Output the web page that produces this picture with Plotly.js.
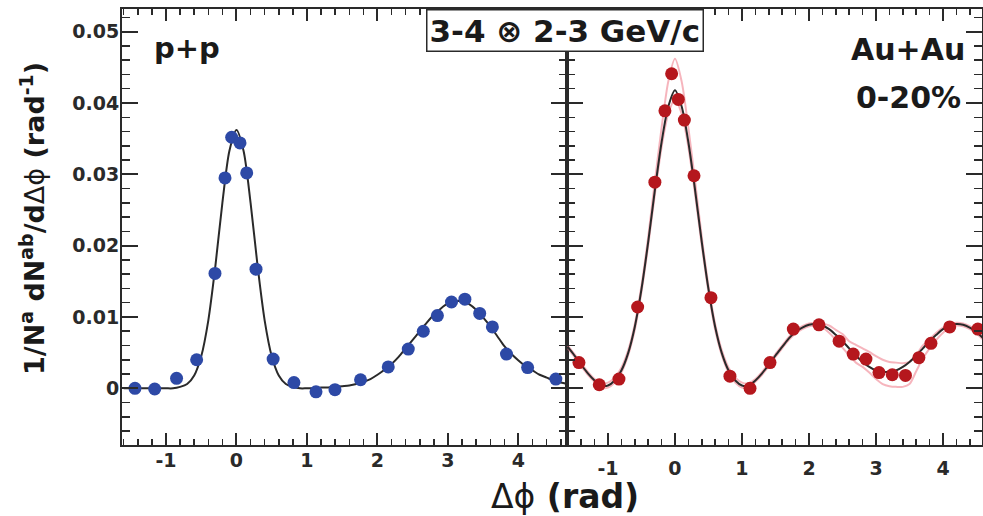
<!DOCTYPE html>
<html>
<head>
<meta charset="utf-8">
<script src="https://cdn.plot.ly/plotly-3.0.1.min.js"></script>
<style>
  html, body { margin: 0; padding: 0; background: #fff; }
  #chart { width: 983px; height: 516px; }
</style>
</head>
<body>
<div id="chart"></div>
<script>
// p+p: measured per-trigger yields vs delta-phi
var ppX = [-1.44, -1.16, -0.85, -0.565, -0.305, -0.163, -0.068, 0.05, 0.145, 0.277, 0.52, 0.815,
           1.128, 1.397, 1.76, 2.153, 2.437, 2.65, 2.85, 3.05, 3.24, 3.45, 3.63, 3.83, 4.13, 4.53];
var ppY = [0.0000, -0.0001, 0.0014, 0.0040, 0.0161, 0.0295, 0.0352, 0.0344, 0.0302, 0.0167, 0.0041, 0.0008,
           -0.0005, -0.0002, 0.0012, 0.0030, 0.0055, 0.0080, 0.0102, 0.0121, 0.0125, 0.0105, 0.0086, 0.0048, 0.0029, 0.0013];

// p+p fit curve
var ppFitX = [-1.6, -1.5, -1.4, -1.3, -1.2, -1.1, -1.0, -0.9, -0.8, -0.7, -0.6, -0.5, -0.4, -0.3, -0.2, -0.1,
              0.0, 0.1, 0.2, 0.3, 0.4, 0.5, 0.6, 0.7, 0.8, 0.9, 1.0, 1.1, 1.2, 1.3, 1.4, 1.5, 1.6, 1.7, 1.8, 1.9,
              2.0, 2.1, 2.2, 2.3, 2.4, 2.5, 2.6, 2.7, 2.8, 2.9, 3.0, 3.1, 3.2, 3.3, 3.4, 3.5, 3.6, 3.7, 3.8, 3.9,
              4.0, 4.1, 4.2, 4.3, 4.4, 4.5, 4.6, 4.7];
var ppFitY = [0.0000, 0.0000, 0.0000, 0.0000, 0.0000, 0.0000, 0.0000, 0.0000, 0.0002, 0.0006, 0.0018, 0.0045,
              0.0095, 0.0171, 0.0260, 0.0333,
              0.0362, 0.0333, 0.0260, 0.0171, 0.0095, 0.0045, 0.0018, 0.0006, 0.0002, 0.0000, 0.0000, 0.0000,
              0.0001, 0.0001, 0.0002, 0.0003, 0.0004, 0.0006, 0.0009, 0.0013,
              0.0019, 0.0026, 0.0034, 0.0044, 0.0056, 0.0068, 0.0080, 0.0092, 0.0103, 0.0112, 0.0119, 0.0122,
              0.0122, 0.0118, 0.0110, 0.0099, 0.0087, 0.0073, 0.0059, 0.0048,
              0.0039, 0.0031, 0.0025, 0.0019, 0.0015, 0.0011, 0.0008, 0.0006];

// Au+Au 0-20%: measured yields
var aaX = [-1.433, -1.13, -0.836, -0.557, -0.30, -0.15, -0.05, 0.05, 0.14, 0.284, 0.537, 0.82,
           1.12, 1.418, 1.766, 2.149, 2.45, 2.66, 2.85, 3.045, 3.243, 3.44, 3.64, 3.82, 4.10, 4.52];
var aaY = [0.0036, 0.0005, 0.0013, 0.0114, 0.0289, 0.0389, 0.0441, 0.0405, 0.0376, 0.0298, 0.0127, 0.0017,
           0.0000, 0.0036, 0.0083, 0.0089, 0.0066, 0.0048, 0.0041, 0.0022, 0.0019, 0.0018, 0.0043, 0.0063, 0.0086, 0.0083];

// Au+Au fit and its systematic band (upper / lower edge)
var aaFitX = [-1.6, -1.5, -1.4, -1.3, -1.2, -1.1, -1.0, -0.9, -0.8, -0.7, -0.6, -0.5, -0.4, -0.3, -0.2, -0.1,
              0.0, 0.1, 0.2, 0.3, 0.4, 0.5, 0.6, 0.7, 0.8, 0.9, 1.0, 1.1, 1.2, 1.3, 1.4, 1.5, 1.6, 1.7, 1.8, 1.9,
              2.0, 2.1, 2.2, 2.3, 2.4, 2.5, 2.6, 2.7, 2.8, 2.9, 3.0, 3.1, 3.2, 3.3, 3.4, 3.5, 3.6, 3.7, 3.8, 3.9,
              4.0, 4.1, 4.2, 4.3, 4.4, 4.5, 4.6];
var aaFitY = [0.0058, 0.0046, 0.0033, 0.0021, 0.0011, 0.0004, 0.0004, 0.0011, 0.0025, 0.0049, 0.0086, 0.0139,
              0.0205, 0.0278, 0.0345, 0.0395,
              0.0418, 0.0395, 0.0345, 0.0278, 0.0205, 0.0139, 0.0086, 0.0049, 0.0025, 0.0011, 0.0004, 0.0004,
              0.0011, 0.0021, 0.0033, 0.0046, 0.0058, 0.0070, 0.0079, 0.0085,
              0.0089, 0.0090, 0.0088, 0.0083, 0.0075, 0.0066, 0.0056, 0.0046, 0.0037, 0.0030, 0.0025, 0.0023,
              0.0023, 0.0025, 0.0030, 0.0037, 0.0046, 0.0056, 0.0066, 0.0075,
              0.0083, 0.0088, 0.0090, 0.0089, 0.0085, 0.0079, 0.0070];
var aaBandHi = [0.0060, 0.0048, 0.0035, 0.0023, 0.0013, 0.0007, 0.0008, 0.0015, 0.0029, 0.0053, 0.0090, 0.0144,
                0.0212, 0.0290, 0.0365, 0.0430,
                0.0462, 0.0430, 0.0365, 0.0290, 0.0212, 0.0144, 0.0090, 0.0053, 0.0029, 0.0015, 0.0008, 0.0007,
                0.0013, 0.0023, 0.0035, 0.0048, 0.0060, 0.0072, 0.0081, 0.0087,
                0.0091, 0.0092, 0.0091, 0.0088, 0.0082, 0.0076, 0.0066, 0.0061, 0.0056, 0.0051, 0.0045, 0.0040,
                0.0037, 0.0036, 0.0035, 0.0037, 0.0047, 0.0060, 0.0069, 0.0078,
                0.0085, 0.0090, 0.0092, 0.0091, 0.0087, 0.0081, 0.0072];
var aaBandLo = [0.0056, 0.0044, 0.0031, 0.0019, 0.0009, 0.0001, 0.0001, 0.0008, 0.0022, 0.0046, 0.0082, 0.0135,
                0.0200, 0.0272, 0.0338, 0.0385,
                0.0405, 0.0385, 0.0338, 0.0272, 0.0200, 0.0135, 0.0082, 0.0046, 0.0022, 0.0008, 0.0001, 0.0001,
                0.0009, 0.0019, 0.0031, 0.0044, 0.0056, 0.0068, 0.0077, 0.0083,
                0.0087, 0.0088, 0.0085, 0.0078, 0.0068, 0.0057, 0.0046, 0.0036, 0.0030, 0.0022, 0.0013, 0.0006,
                0.0003, 0.0002, 0.0002, 0.0006, 0.0024, 0.0042, 0.0056, 0.0068,
                0.0078, 0.0085, 0.0088, 0.0087, 0.0083, 0.0077, 0.0068];

// axis ticks
var xTickVals = [-1, 0, 1, 2, 3, 4];
var xTickText = ['-1', '0', '1', '2', '3', '4'];

var FONT = 'DejaVu Sans, Arial, sans-serif';
var INK = '#2a2a2a';
var BLUE = '#2d49a6';
var RED = '#b5171d';
var PINK = 'rgba(238, 120, 135, 0.55)';

var traces = [
  { x: ppFitX, y: ppFitY, xaxis: 'x', yaxis: 'y', mode: 'lines',
    line: { color: INK, width: 2, shape: 'spline', smoothing: 0.8 }, hoverinfo: 'skip' },
  { x: ppX, y: ppY, xaxis: 'x', yaxis: 'y', mode: 'markers',
    marker: { color: BLUE, size: 13, line: { width: 0 } } },
  { x: aaFitX, y: aaBandHi, xaxis: 'x2', yaxis: 'y2', mode: 'lines',
    line: { color: PINK, width: 2, shape: 'spline', smoothing: 0.8 }, hoverinfo: 'skip' },
  { x: aaFitX, y: aaBandLo, xaxis: 'x2', yaxis: 'y2', mode: 'lines',
    line: { color: PINK, width: 2, shape: 'spline', smoothing: 0.8 }, hoverinfo: 'skip' },
  { x: aaFitX, y: aaFitY, xaxis: 'x2', yaxis: 'y2', mode: 'lines',
    line: { color: INK, width: 2, shape: 'spline', smoothing: 0.8 }, hoverinfo: 'skip' },
  { x: aaX, y: aaY, xaxis: 'x2', yaxis: 'y2', mode: 'markers',
    marker: { color: RED, size: 13, line: { width: 0 } } }
];

var tickFont = { family: FONT, size: 19, color: INK, weight: 'bold' };

function xAxis(domain, range, anchor, standoff) {
  return {
    domain: domain, range: range, anchor: anchor,
    showline: true, linecolor: INK, linewidth: 2, mirror: 'ticks',
    ticks: 'inside', ticklen: 12, tickwidth: 2, tickcolor: INK,
    tickmode: 'array', tickvals: xTickVals, ticktext: xTickText,
    minor: { dtick: 0.2, tick0: 0, ticks: 'inside', ticklen: 6, tickwidth: 1.5, tickcolor: INK, showgrid: false },
    showgrid: false, zeroline: false, tickfont: tickFont, ticklabelstandoff: standoff,
    fixedrange: true
  };
}
function yAxis(anchor, showLabels) {
  return {
    domain: [0, 1], range: [-0.00795, 0.05318], anchor: anchor,
    showline: true, linecolor: INK, linewidth: 2, mirror: 'ticks',
    ticks: 'inside', ticklen: 16, tickwidth: 2, tickcolor: INK,
    dtick: 0.01, tick0: 0,
    minor: { dtick: 0.002, tick0: 0, ticks: 'inside', ticklen: 8, tickwidth: 1.5, tickcolor: INK, showgrid: false },
    showgrid: false, zeroline: false, showticklabels: showLabels, tickfont: tickFont,
    ticklabelstandoff: -3, fixedrange: true
  };
}

var layout = {
  width: 983, height: 516,
  margin: { l: 122, r: 1, t: 9, b: 71 },
  paper_bgcolor: '#fff', plot_bgcolor: '#fff',
  showlegend: false,
  xaxis: xAxis([0, 0.5174], [-1.624, 4.688], 'y', -3),
  yaxis: yAxis('x', true),
  xaxis2: xAxis([0.5174, 1], [-1.612, 4.582], 'y2', 5),
  yaxis2: yAxis('x2', false),
  annotations: [
    { text: '3-4 \u2297 2-3 GeV/c', xref: 'paper', yref: 'paper', x: 0.5151, y: 1,
      xanchor: 'center', yanchor: 'top', showarrow: false,
      font: { family: FONT, size: 31, color: '#1a1a1a', weight: 'bold' },
      bgcolor: '#fff', bordercolor: INK, borderwidth: 1.5, borderpad: 2 },
    { text: 'p+p', xref: 'paper', yref: 'paper', x: 0.0349, y: 0.9106,
      xanchor: 'left', yanchor: 'middle', showarrow: false,
      font: { family: FONT, size: 29, color: '#1a1a1a', weight: 'bold' } },
    { text: 'Au+Au', xref: 'paper', yref: 'paper', x: 0.914, y: 0.906,
      xanchor: 'center', yanchor: 'middle', showarrow: false,
      font: { family: FONT, size: 30, color: '#1a1a1a', weight: 'bold' } },
    { text: '0-20%', xref: 'paper', yref: 'paper', x: 0.914, y: 0.796,
      xanchor: 'center', yanchor: 'middle', showarrow: false,
      font: { family: FONT, size: 30, color: '#1a1a1a', weight: 'bold' } },
    { text: '1/N<sup>a</sup> dN<sup>ab</sup>/d<span style="font-weight:normal">\u0394\u03d5</span> (rad<sup>-1</sup>)',
      xref: 'paper', yref: 'paper', x: -0.1047, y: 0.5206, textangle: -90,
      xanchor: 'center', yanchor: 'middle', showarrow: false,
      font: { family: FONT, size: 27, color: '#1a1a1a', weight: 'bold' } },
    { text: '<span style="font-weight:normal">\u0394\u03d5</span> (rad)',
      xref: 'paper', yref: 'paper', x: 0.5151, y: -0.118,
      xanchor: 'center', yanchor: 'middle', showarrow: false,
      font: { family: FONT, size: 33, color: '#1a1a1a', weight: 'bold' } }
  ]
};

Plotly.newPlot('chart', traces, layout, { displayModeBar: false, staticPlot: true });
</script>
</body>
</html>
